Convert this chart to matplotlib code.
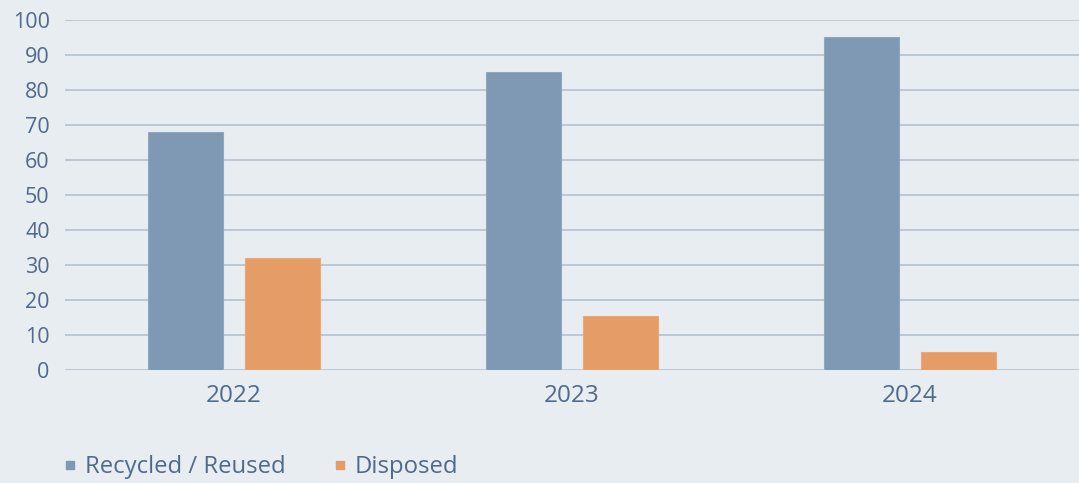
import numpy as np
import matplotlib
matplotlib.use("Agg")
import matplotlib.pyplot as plt
from matplotlib.lines import Line2D

plt.rcParams['font.family'] = ['Open Sans', 'DejaVu Sans']

years = ["2022", "2023", "2024"]
recycled = [68, 85, 95]
disposed = [32, 15.3, 5]
series_names = ["Recycled / Reused", "Disposed"]

BG = "#e8edf2"
BLUE = "#7f98b3"
ORANGE = "#e59c66"
GRID = "#b8c5d4"
TEXT = "#4f6a8b"

fig = plt.figure(figsize=(10.79, 4.83), dpi=100, facecolor=BG)
ax = fig.add_axes([0.0602, 0.234, 0.9398, 0.7246], facecolor=BG)

x = np.arange(len(years))
w = 0.222
off = 0.1435
ax.bar(x - off, recycled, w, color=BLUE, edgecolor="#91a7be", linewidth=0.8, zorder=3)
ax.bar(x + off, disposed, w, color=ORANGE, edgecolor="#eaa877", linewidth=0.8, zorder=3)

ax.set_xlim(-0.5, 2.5)
ax.set_ylim(0, 100)
ax.set_yticks(range(0, 101, 10))
ax.set_xticks(x)
ax.set_xticklabels(years)
ax.grid(axis="y", color=GRID, linewidth=1.3, zorder=0)
for s in ax.spines.values():
    s.set_visible(False)
ax.tick_params(axis="y", length=0, pad=11, labelsize=15.5, labelcolor=TEXT)
ax.tick_params(axis="x", length=0, pad=10, labelsize=17.5, labelcolor=TEXT)

handles = [Line2D([], [], linestyle="none", marker="s", markersize=5.5, color=c)
           for c in (BLUE, ORANGE)]
fig.legend(handles, series_names, loc="lower left", bbox_to_anchor=(0.038, -0.037),
           ncol=2, frameon=False, fontsize=17.2, labelcolor=TEXT,
           handlelength=0.6, handletextpad=0.35, columnspacing=1.95)

fig.savefig("out.png", dpi=100, facecolor=BG)
